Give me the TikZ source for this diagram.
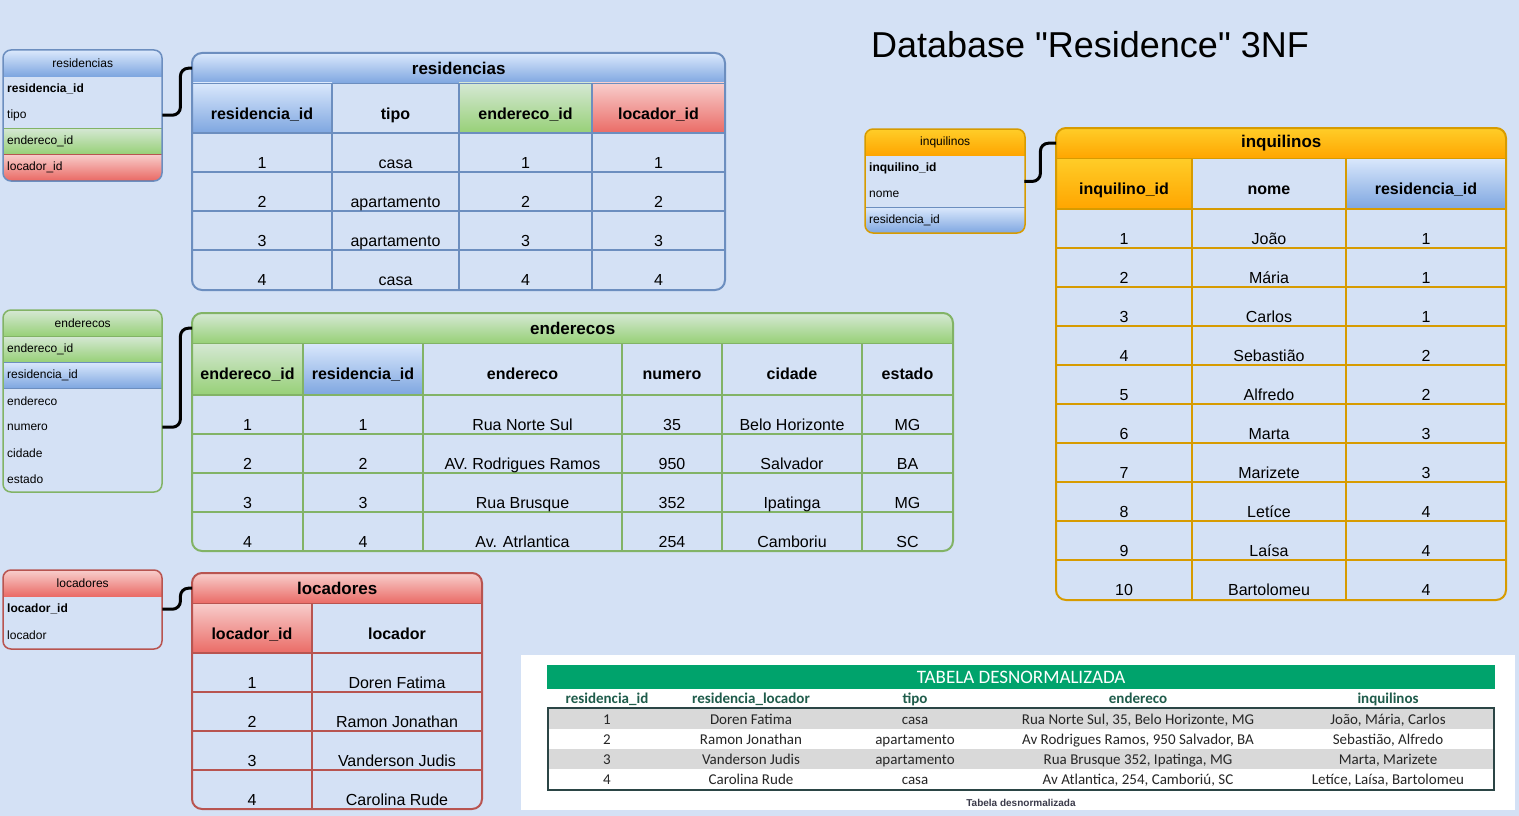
\documentclass[tikz,border=0pt]{standalone}
\usepackage{fontspec}
\setmainfont{Liberation Sans}
\newfontfamily\carlito{Carlito}
\usetikzlibrary{positioning}
\definecolor{fundo}{HTML}{D4E1F5}
\definecolor{azulA}{HTML}{DAE8FC}
\definecolor{azulB}{HTML}{7EA6E0}
\definecolor{azulL}{HTML}{6C8EBF}
\definecolor{verdeA}{HTML}{D5E8D4}
\definecolor{verdeB}{HTML}{97D077}
\definecolor{verdeL}{HTML}{82B366}
\definecolor{vermA}{HTML}{F8CECC}
\definecolor{vermB}{HTML}{EA6B66}
\definecolor{vermL}{HTML}{B85450}
\definecolor{larA}{HTML}{FFCD28}
\definecolor{larB}{HTML}{FFA500}
\definecolor{larL}{HTML}{D79B00}
\definecolor{verdeD}{HTML}{00A36C}
\definecolor{verdeE}{HTML}{1F5C4B}
\definecolor{bordaDen}{HTML}{2B4545}
\definecolor{cinza}{HTML}{D9D9D9}
\definecolor{cinzaE}{HTML}{3A3A4A}
\tikzstyle{liga} = [line width=3pt, rounded corners=8pt]
\tikzstyle{grade} = [line width=2pt]
\tikzstyle{borda} = [line width=2pt, rounded corners=10pt]
\tikzstyle{titulo} = [anchor=north west, inner sep=0pt, minimum height=30pt, font=\fontsize{17}{20}\selectfont\bfseries]
\tikzstyle{cab} = [font=\fontsize{16}{19}\selectfont\bfseries, text height=11.5pt, text depth=3.5pt]
\tikzstyle{cel} = [font=\fontsize{16}{19}\selectfont, text height=11.5pt, text depth=3.5pt]
\tikzstyle{erCab} = [anchor=north west, inner sep=0pt, minimum width=159pt, minimum height=26pt, font=\fontsize{12}{14}\selectfont]
\tikzstyle{erLinha} = [anchor=north west, inner xsep=4pt, inner ysep=0pt, text width=151pt, align=left, minimum height=26pt, font=\fontsize{12}{14}\selectfont]
\tikzstyle{erChave} = [erLinha, font=\fontsize{12}{14}\selectfont\bfseries]
\tikzstyle{den} = [font=\carlito\fontsize{15}{17}\selectfont, text=black!85, text height=10pt, text depth=3pt]
\tikzstyle{denCab} = [font=\carlito\fontsize{15}{17}\selectfont\bfseries, text=verdeE, text height=10pt, text depth=3pt]

\begin{document}
\begin{tikzpicture}[x=1pt, y=-1pt]

	\useasboundingbox (0,0) rectangle (1519,816);
	\fill[fundo] (0,0) rectangle (1519,816);

	\node[font=\fontsize{36}{40}\selectfont] (titulo) at (1090,45) {Database \textquotedbl Residence\textquotedbl{} 3NF};

	% residencias
	\begin{scope}
	\clip[rounded corners=8pt] (3,50) rectangle (162,181);
	\node[erCab, top color=azulA, bottom color=azulB] (erRes) at (3,50) {residencias};
	\node[erChave] (erResId) at (3,76) {residencia\_id};
	\node[erLinha] (erResTipo) at (3,102) {tipo};
	\node[erLinha, top color=verdeA, bottom color=verdeB, draw=verdeL] (erResEnd) at (3,128) {endereco\_id};
	\node[erLinha, top color=vermA, bottom color=vermB, draw=vermL] (erResLoc) at (3,154) {locador\_id};
	\end{scope}
	\draw[azulL, line width=1.5pt, rounded corners=8pt] (3,50) rectangle (162,181);

	\begin{scope}
	\clip[rounded corners=10pt] (192,53) rectangle (725,290);
	\node[titulo, top color=azulA, bottom color=azulB, minimum width=533pt] (resTit) at (192,53) {residencias};
	\shade[top color=azulA, bottom color=azulB] (192,83) rectangle (332,133);
	\shade[top color=verdeA, bottom color=verdeB] (459,83) rectangle (592,133);
	\shade[top color=vermA, bottom color=vermB] (592,83) rectangle (725,133);
	\draw[azulL] (192,83) -- (725,83);
	\foreach \y in {133,172,211,250} \draw[grade, azulL] (192,\y) -- (725,\y);
	\foreach \x in {332,459,592} \draw[grade, azulL] (\x,83) -- (\x,290);
	\end{scope}
	\draw[borda, azulL] (192,53) rectangle (725,290);

	\foreach \x/\t [count=\i] in {262/residencia\_id, 395.5/tipo, 525.5/endereco\_id, 658.5/locador\_id}
		\node[cab] (resH\i) at (\x,115) {\t};
	\foreach \a/\b/\c/\d [count=\i] in {1/casa/1/1, 2/apartamento/2/2, 3/apartamento/3/3, 4/casa/4/4} {
		\node[cel] (resA\i) at (262,{125+39*\i}) {\a};
		\node[cel] (resB\i) at (395.5,{125+39*\i}) {\b};
		\node[cel] (resC\i) at (525.5,{125+39*\i}) {\c};
		\node[cel] (resD\i) at (658.5,{125+39*\i}) {\d};
	}

	\draw[liga] (erResTipo.east) -- ++(18,0) |- (resTit.west);

	% enderecos
	\begin{scope}
	\clip[rounded corners=8pt] (3,310) rectangle (162,492);
	\node[erCab, top color=verdeA, bottom color=verdeB] (erEnd) at (3,310) {enderecos};
	\node[erLinha, top color=verdeA, bottom color=verdeB, draw=verdeL] (erEndId) at (3,336) {endereco\_id};
	\node[erLinha, top color=azulA, bottom color=azulB, draw=azulL] (erEndRes) at (3,362) {residencia\_id};
	\node[erLinha] (erEndEnd) at (3,388) {endereco};
	\node[erLinha] (erEndNum) at (3,414) {numero};
	\node[erLinha] (erEndCid) at (3,440) {cidade};
	\node[erLinha] (erEndEst) at (3,466) {estado};
	\end{scope}
	\draw[verdeL, line width=1.5pt, rounded corners=8pt] (3,310) rectangle (162,492);

	\begin{scope}
	\clip[rounded corners=10pt] (192,313) rectangle (953,551);
	\node[titulo, top color=verdeA, bottom color=verdeB, minimum width=761pt] (endTit) at (192,313) {enderecos};
	\shade[top color=verdeA, bottom color=verdeB] (192,343) rectangle (303,395);
	\shade[top color=azulA, bottom color=azulB] (303,343) rectangle (423,395);
	\draw[verdeL] (192,343) -- (953,343);
	\foreach \y in {395,434,473,512} \draw[grade, verdeL] (192,\y) -- (953,\y);
	\foreach \x in {303,423,622,722,862} \draw[grade, verdeL] (\x,343) -- (\x,551);
	\end{scope}
	\draw[borda, verdeL] (192,313) rectangle (953,551);

	\foreach \x/\t [count=\i] in {247.5/endereco\_id, 363/residencia\_id, 522.5/endereco, 672/numero, 792/cidade, 907.5/estado}
		\node[cab] (endH\i) at (\x,375) {\t};
	\foreach \a/\b/\c/\d/\e/\f [count=\i] in {1/1/Rua Norte Sul/35/Belo Horizonte/MG, 2/2/AV. Rodrigues Ramos/950/Salvador/BA, 3/3/Rua Brusque/352/Ipatinga/MG, 4/4/Av. Atrlantica/254/Camboriu/SC} {
		\node[cel] (endA\i) at (247.5,{387+39*\i}) {\a};
		\node[cel] (endB\i) at (363,{387+39*\i}) {\b};
		\node[cel] (endC\i) at (522.5,{387+39*\i}) {\c};
		\node[cel] (endD\i) at (672,{387+39*\i}) {\d};
		\node[cel] (endE\i) at (792,{387+39*\i}) {\e};
		\node[cel] (endF\i) at (907.5,{387+39*\i}) {\f};
	}

	\draw[liga] (erEndNum.east) -- ++(18,0) |- (endTit.west);

	% locadores
	\begin{scope}
	\clip[rounded corners=8pt] (3,570) rectangle (162,649);
	\node[erCab, top color=vermA, bottom color=vermB] (erLoc) at (3,570) {locadores};
	\node[erChave] (erLocId) at (3,596) {locador\_id};
	\node[erLinha] (erLocNome) at (3,622) {locador};
	\end{scope}
	\draw[vermL, line width=1.5pt, rounded corners=8pt] (3,570) rectangle (162,649);

	\begin{scope}
	\clip[rounded corners=10pt] (192,573) rectangle (482,809);
	\node[titulo, top color=vermA, bottom color=vermB, minimum width=290pt] (locTit) at (192,573) {locadores};
	\shade[top color=vermA, bottom color=vermB] (192,603) rectangle (312,653);
	\draw[vermL] (192,603) -- (482,603);
	\foreach \y in {653,692,731,770} \draw[grade, vermL] (192,\y) -- (482,\y);
	\draw[grade, vermL] (312,603) -- (312,809);
	\end{scope}
	\draw[borda, vermL] (192,573) rectangle (482,809);

	\node[cab] (locH1) at (252,635) {locador\_id};
	\node[cab] (locH2) at (397,635) {locador};
	\foreach \a/\b [count=\i] in {1/Doren Fatima, 2/Ramon Jonathan, 3/Vanderson Judis, 4/Carolina Rude} {
		\node[cel] (locA\i) at (252,{645+39*\i}) {\a};
		\node[cel] (locB\i) at (397,{645+39*\i}) {\b};
	}

	\draw[liga] (erLocId.east) -- ++(18,0) |- (locTit.west);

	% inquilinos
	\begin{scope}
	\clip[rounded corners=8pt] (865,129) rectangle (1025,233);
	\node[erCab, top color=larA, bottom color=larB, minimum width=160pt] (erInq) at (865,129) {inquilinos};
	\node[erChave] (erInqId) at (865,155) {inquilino\_id};
	\node[erLinha] (erInqNome) at (865,181) {nome};
	\node[erLinha, top color=azulA, bottom color=azulB, draw=azulL, text width=152pt] (erInqRes) at (865,207) {residencia\_id};
	\end{scope}
	\draw[larL, line width=1.5pt, rounded corners=8pt] (865,129) rectangle (1025,233);

	\begin{scope}
	\clip[rounded corners=10pt] (1056,128) rectangle (1506,600);
	\node[titulo, top color=larA, bottom color=larB, minimum width=450pt] (inqTit) at (1056,128) {inquilinos};
	\shade[top color=larA, bottom color=larB] (1056,158) rectangle (1192,209);
	\shade[top color=azulA, bottom color=azulB] (1346,158) rectangle (1506,209);
	\draw[larL] (1056,158) -- (1506,158);
	\foreach \k in {0,...,9} \draw[grade, larL] (1056,{209+39*\k}) -- (1506,{209+39*\k});
	\foreach \x in {1192,1346} \draw[grade, larL] (\x,158) -- (\x,600);
	\end{scope}
	\draw[borda, larL] (1056,128) rectangle (1506,600);

	\foreach \x/\t [count=\i] in {1124/inquilino\_id, 1269/nome, 1426/residencia\_id}
		\node[cab] (inqH\i) at (\x,190) {\t};
	\foreach \a/\b/\c [count=\i] in {1/João/1, 2/Mária/1, 3/Carlos/1, 4/Sebastião/2, 5/Alfredo/2, 6/Marta/3, 7/Marizete/3, 8/Letíce/4, 9/Laísa/4, 10/Bartolomeu/4} {
		\node[cel] (inqA\i) at (1124,{201+39*\i}) {\a};
		\node[cel] (inqB\i) at (1269,{201+39*\i}) {\b};
		\node[cel] (inqC\i) at (1426,{201+39*\i}) {\c};
	}

	\draw[liga] (erInqId.south east) -- ++(16,0) |- (inqTit.west);

	% tabela desnormalizada
	\fill[white] (521,655) rectangle (1515,810);
	\node[fill=verdeD, anchor=north west, inner sep=0pt, minimum width=948pt, minimum height=24pt, text=white, font=\carlito\fontsize{19}{21}\selectfont] (denTit) at (547,665) {TABELA DESNORMALIZADA};
	\fill[cinza] (548,709) rectangle (1494,729);
	\fill[cinza] (548,749) rectangle (1494,769);
	\draw[line width=2pt, bordaDen] (548,708) rectangle (1494,790);

	\foreach \x/\t [count=\i] in {607/residencia\_id, 751/residencia\_locador, 915/tipo, 1138/endereco, 1388/inquilinos}
		\node[denCab] (denH\i) at (\x,699.5) {\t};
	\foreach \a/\b/\c/\d/\e [count=\i] in {1/Doren Fatima/casa/{Rua Norte Sul, 35, Belo Horizonte, MG}/{João, Mária, Carlos}, 2/Ramon Jonathan/apartamento/{Av Rodrigues Ramos, 950 Salvador, BA}/{Sebastião, Alfredo}, 3/Vanderson Judis/apartamento/{Rua Brusque 352, Ipatinga, MG}/{Marta, Marizete}, 4/Carolina Rude/casa/{Av Atlantica, 254, Camboriú, SC}/{Letíce, Laísa, Bartolomeu}} {
		\node[den] (denA\i) at (607,{700.5+20*\i}) {\a};
		\node[den] (denB\i) at (751,{700.5+20*\i}) {\b};
		\node[den] (denC\i) at (915,{700.5+20*\i}) {\c};
		\node[den] (denD\i) at (1138,{700.5+20*\i}) {\d};
		\node[den] (denE\i) at (1388,{700.5+20*\i}) {\e};
	}

	\node[font=\fontsize{10}{11}\selectfont\bfseries, text=cinzaE] (denLeg) at (1021,803) {Tabela desnormalizada};

\end{tikzpicture}
\end{document}
